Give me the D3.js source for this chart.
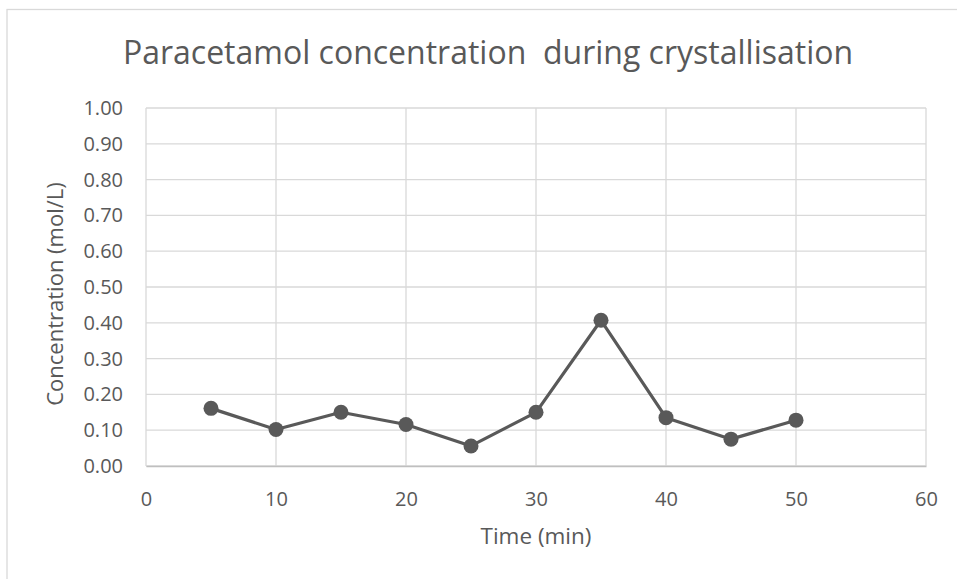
<!DOCTYPE html>
<html>
<head>
<meta charset="utf-8">
<script src="https://cdn.jsdelivr.net/npm/d3@7"></script>
<style>
  body { margin: 0; background: #fff; }
  text { font-family: "Open Sans", Lato, sans-serif; fill: #595959; }
</style>
</head>
<body>
<div class="chart"></div>
<script>
// Paracetamol concentration readings
const TIMES = [5, 10, 15, 20, 25, 30, 35, 40, 45, 50]
const CONC = [0.161, 0.102, 0.150, 0.116, 0.056, 0.150, 0.407, 0.135, 0.075, 0.128]
const X_TICKS = [0, 10, 20, 30, 40, 50, 60]
const Y_TICKS = [0, 0.1, 0.2, 0.3, 0.4, 0.5, 0.6, 0.7, 0.8, 0.9, 1.0]

const TITLE = 'Paracetamol concentration  during crystallisation'
const X_LABEL = 'Time (min)'
const Y_LABEL = 'Concentration (mol/L)'

var svgWidth = 957
var svgHeight = 579

var margin = { top: 108, bottom: 113, right: 31, left: 146 }
var width = svgWidth - margin.left - margin.right
var height = svgHeight - margin.top - margin.bottom

var svg = d3.select('.chart')
    .append('svg')
    .attr('width', svgWidth)
    .attr('height', svgHeight)

// outer chart border (cut off on the right and bottom)
svg.append('rect')
    .attr('x', 7)
    .attr('y', 9.5)
    .attr('width', 960)
    .attr('height', 580)
    .attr('fill', 'none')
    .attr('stroke', '#d9d9d9')
    .attr('stroke-width', 1.3)

svg.append('text')
    .attr('x', 488)
    .attr('y', 64)
    .attr('text-anchor', 'middle')
    .attr('font-size', '32px')
    .style('white-space', 'pre')
    .text(TITLE)

var chartGroup = svg.append('g')
    .attr('transform', `translate(${margin.left}, ${margin.top})`)

var xScale = d3.scaleLinear().domain([0, 60]).range([0, width])
var yScale = d3.scaleLinear().domain([0, 1]).range([height, 0])

// gridlines
chartGroup.append('g')
    .selectAll('line')
    .data(Y_TICKS)
    .enter()
    .append('line')
    .attr('x1', 0)
    .attr('x2', width)
    .attr('y1', d => yScale(d))
    .attr('y2', d => yScale(d))
    .attr('stroke', '#d9d9d9')
    .attr('stroke-width', 1.3)

chartGroup.append('g')
    .selectAll('line')
    .data(X_TICKS)
    .enter()
    .append('line')
    .attr('x1', d => xScale(d))
    .attr('x2', d => xScale(d))
    .attr('y1', 0)
    .attr('y2', height)
    .attr('stroke', '#d9d9d9')
    .attr('stroke-width', 1.3)

// axes (labels only, Excel style)
var xAxis = chartGroup.append('g')
    .attr('transform', `translate(0, ${height})`)
    .call(d3.axisBottom(xScale).tickValues(X_TICKS).tickSize(0).tickPadding(26))
xAxis.select('.domain').attr('stroke', '#bfbfbf').attr('stroke-width', 1.3)
xAxis.selectAll('text').attr('font-size', '20px').attr('fill', '#595959')
    .style('font-family', '"Open Sans", Lato, sans-serif')

var yAxis = chartGroup.append('g')
    .call(d3.axisLeft(yScale).tickValues(Y_TICKS).tickFormat(d3.format('.2f')).tickSize(0).tickPadding(23))
yAxis.select('.domain').remove()
yAxis.selectAll('text').attr('font-size', '20px').attr('fill', '#595959')
    .style('font-family', '"Open Sans", Lato, sans-serif')

svg.append('text')
    .attr('x', 536)
    .attr('y', 544)
    .attr('text-anchor', 'middle')
    .attr('font-size', '22.5px')
    .text(X_LABEL)

svg.append('text')
    .attr('transform', `translate(63, 294) rotate(-90)`)
    .attr('text-anchor', 'middle')
    .attr('font-size', '22px')
    .text(Y_LABEL)

// series
var line = d3.line()
    .x((d, i) => xScale(TIMES[i]))
    .y(d => yScale(d))

chartGroup.append('path')
    .datum(CONC)
    .attr('d', line)
    .attr('fill', 'none')
    .attr('stroke', '#595959')
    .attr('stroke-width', 3.2)
    .attr('stroke-linejoin', 'round')

chartGroup.selectAll('.pt')
    .data(CONC)
    .enter()
    .append('circle')
    .classed('pt', true)
    .attr('cx', (d, i) => xScale(TIMES[i]))
    .attr('cy', d => yScale(d))
    .attr('r', 7.5)
    .attr('fill', '#595959')
</script>
</body>
</html>
